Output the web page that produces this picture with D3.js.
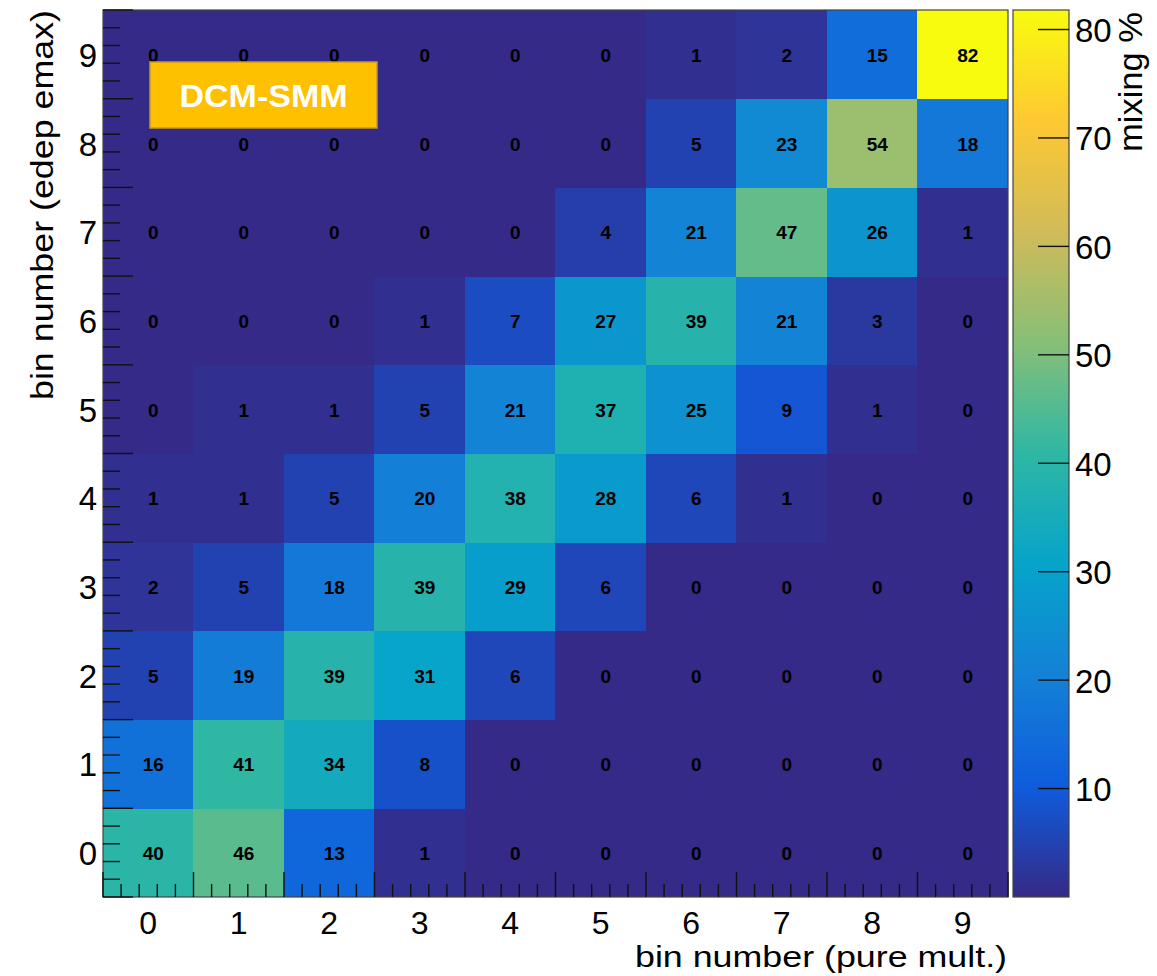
<!DOCTYPE html>
<html>
<head>
<meta charset="utf-8">
<script src="https://cdn.jsdelivr.net/npm/d3@7"></script>
<style>
  html, body { margin: 0; padding: 0; background: #fff; }
  text { font-family: "Liberation Sans", Arial, Helvetica, sans-serif; }
</style>
</head>
<body>
<svg id="chart" width="1157" height="976"></svg>
<script>
// ---- data ----
const xLabels = ["0","1","2","3","4","5","6","7","8","9"];
const yLabels = ["0","1","2","3","4","5","6","7","8","9"];
// one array per y bin (edep emax), values along x bins (pure mult.)
const rowY0 = [40, 46, 13, 1, 0, 0, 0, 0, 0, 0];
const rowY1 = [16, 41, 34, 8, 0, 0, 0, 0, 0, 0];
const rowY2 = [5, 19, 39, 31, 6, 0, 0, 0, 0, 0];
const rowY3 = [2, 5, 18, 39, 29, 6, 0, 0, 0, 0];
const rowY4 = [1, 1, 5, 20, 38, 28, 6, 1, 0, 0];
const rowY5 = [0, 1, 1, 5, 21, 37, 25, 9, 1, 0];
const rowY6 = [0, 0, 0, 1, 7, 27, 39, 21, 3, 0];
const rowY7 = [0, 0, 0, 0, 0, 4, 21, 47, 26, 1];
const rowY8 = [0, 0, 0, 0, 0, 0, 5, 23, 54, 18];
const rowY9 = [0, 0, 0, 0, 0, 0, 1, 2, 15, 82];
const zTicks = [10, 20, 30, 40, 50, 60, 70, 80];
const xTitle = "bin number (pure mult.)";
const yTitle = "bin number (edep emax)";
const zTitle = "mixing %";
const tagText = "DCM-SMM";

// ROOT kBird palette stops
const birdStops = [0, 0.125, 0.25, 0.375, 0.5, 0.625, 0.75, 0.875, 1];
const birdR = [0.2082, 0.0592, 0.0780, 0.0232, 0.1802, 0.5301, 0.8186, 0.9956, 0.9764];
const birdG = [0.1664, 0.3599, 0.5041, 0.6419, 0.7178, 0.7492, 0.7328, 0.7862, 0.9832];
const birdB = [0.5293, 0.8684, 0.8385, 0.7914, 0.6425, 0.4662, 0.3499, 0.1968, 0.0539];

const rows = [rowY0, rowY1, rowY2, rowY3, rowY4, rowY5, rowY6, rowY7, rowY8, rowY9];
const cells = [];
rows.forEach((r, yi) => r.forEach((v, xi) => cells.push({xi, yi, v})));

// ---- layout ----
const L = 103, R = 1008, T = 10, B = 897;
const zMin = 0, zMax = 81.8;

const svg = d3.select("#chart");
svg.append("rect").attr("width", 1157).attr("height", 976).attr("fill", "#fff");

const x = d3.scaleLinear().domain([-0.5, 9.5]).range([L, R]);
const y = d3.scaleLinear().domain([-0.5, 9.5]).range([B, T]);
const birdColors = birdStops.map((s, i) => d3.rgb(birdR[i] * 255, birdG[i] * 255, birdB[i] * 255).toString());
const color = d3.scaleLinear()
  .domain(birdStops.map(s => zMin + s * (zMax - zMin)))
  .range(birdColors)
  .interpolate(d3.interpolateRgb)
  .clamp(true);

// ---- cells ----
svg.append("g").attr("shape-rendering", "crispEdges")
  .selectAll("rect").data(cells).join("rect")
  .attr("x", d => Math.floor(x(d.xi - 0.5)))
  .attr("y", d => Math.floor(y(d.yi + 0.5)))
  .attr("width", d => Math.ceil(x(d.xi + 0.5)) - Math.floor(x(d.xi - 0.5)))
  .attr("height", d => Math.ceil(y(d.yi - 0.5)) - Math.floor(y(d.yi + 0.5)))
  .attr("fill", d => color(d.v));

// cell texts
svg.append("g").selectAll("text").data(cells).join("text")
  .attr("x", d => x(d.xi) + 5)
  .attr("y", d => y(d.yi) + 1)
  .attr("text-anchor", "middle")
  .attr("dominant-baseline", "central")
  .attr("font-size", 19)
  .attr("font-weight", "bold")
  .attr("fill", "#000")
  .text(d => d3.format(".0f")(d.v));

// ---- frame ----
svg.append("rect").attr("x", L).attr("y", T).attr("width", R - L).attr("height", B - T)
  .attr("fill", "none").attr("stroke", "#444").attr("stroke-width", 1.2);

// ---- axis ticks (inside) ----
const edges = d3.range(-0.5, 10, 1);
const minor = [];
for (let i = 0; i < 10; i++) for (let k = 1; k < 5; k++) minor.push(-0.5 + i + k * 0.2);
const axG = svg.append("g").attr("stroke", "#111").attr("stroke-width", 1.4);
axG.selectAll(".xM").data(edges).join("line").attr("class", "xM")
  .attr("x1", d => x(d)).attr("x2", d => x(d)).attr("y1", B).attr("y2", B - 25);
axG.selectAll(".xm").data(minor).join("line").attr("class", "xm")
  .attr("x1", d => x(d)).attr("x2", d => x(d)).attr("y1", B).attr("y2", B - 13);
axG.selectAll(".yM").data(edges).join("line").attr("class", "yM")
  .attr("y1", d => y(d)).attr("y2", d => y(d)).attr("x1", L).attr("x2", L + 30);
axG.selectAll(".ym").data(minor).join("line").attr("class", "ym")
  .attr("y1", d => y(d)).attr("y2", d => y(d)).attr("x1", L).attr("x2", L + 17);

// tick labels
svg.append("g").selectAll("text").data(xLabels).join("text")
  .attr("x", (d, i) => x(i)).attr("y", 934)
  .attr("text-anchor", "middle").attr("font-size", 32).attr("fill", "#000")
  .text(d => d);
svg.append("g").selectAll("text").data(yLabels).join("text")
  .attr("x", 97).attr("y", (d, i) => y(i) + 1)
  .attr("text-anchor", "end").attr("dominant-baseline", "central")
  .attr("font-size", 33).attr("fill", "#000")
  .text(d => d);

// axis titles
svg.append("text").attr("x", 1007).attr("y", 967)
  .attr("text-anchor", "end").attr("font-size", 29)
  .attr("textLength", 372).attr("lengthAdjust", "spacingAndGlyphs")
  .text(xTitle);
svg.append("text").attr("transform", "translate(53,10) rotate(-90)")
  .attr("text-anchor", "end").attr("font-size", 31)
  .attr("textLength", 390).attr("lengthAdjust", "spacingAndGlyphs")
  .text(yTitle);

// ---- colour bar ----
const CL = 1013, CR = 1069;
const z = d3.scaleLinear().domain([zMin, zMax]).range([B, T]);
const defs = svg.append("defs");
const grad = defs.append("linearGradient").attr("id", "zgrad")
  .attr("x1", 0).attr("y1", 1).attr("x2", 0).attr("y2", 0);
grad.selectAll("stop").data(birdStops).join("stop")
  .attr("offset", d => d)
  .attr("stop-color", (d, i) => birdColors[i]);
svg.append("rect").attr("x", CL).attr("y", T).attr("width", CR - CL).attr("height", B - T)
  .attr("fill", "url(#zgrad)").attr("stroke", "#444").attr("stroke-width", 1.2);
const zg = svg.append("g");
zg.selectAll("line").data(zTicks).join("line")
  .attr("x1", CR - 31).attr("x2", CR).attr("y1", d => z(d)).attr("y2", d => z(d))
  .attr("stroke", "#111").attr("stroke-width", 1.4);
zg.selectAll("text").data(zTicks).join("text")
  .attr("x", 1075).attr("y", d => z(d) + 1)
  .attr("dominant-baseline", "central").attr("font-size", 33)
  .text(d => d);
svg.append("text").attr("transform", "translate(1142,12) rotate(-90)")
  .attr("text-anchor", "end").attr("font-size", 34)
  .attr("textLength", 140).attr("lengthAdjust", "spacingAndGlyphs")
  .text(zTitle);

// ---- DCM-SMM tag ----
svg.append("rect").attr("x", 150).attr("y", 62).attr("width", 227).attr("height", 66)
  .attr("fill", "#FFC000").attr("stroke", "#C59A1E").attr("stroke-width", 1.5);
svg.append("text").attr("x", 263.5).attr("y", 107)
  .attr("text-anchor", "middle")
  .attr("font-family", "'Open Sans', 'Liberation Sans', sans-serif")
  .attr("font-weight", "bold").attr("font-size", 32).attr("fill", "#fff")
  .attr("textLength", 168).attr("lengthAdjust", "spacingAndGlyphs")
  .text(tagText);
</script>
</body>
</html>
